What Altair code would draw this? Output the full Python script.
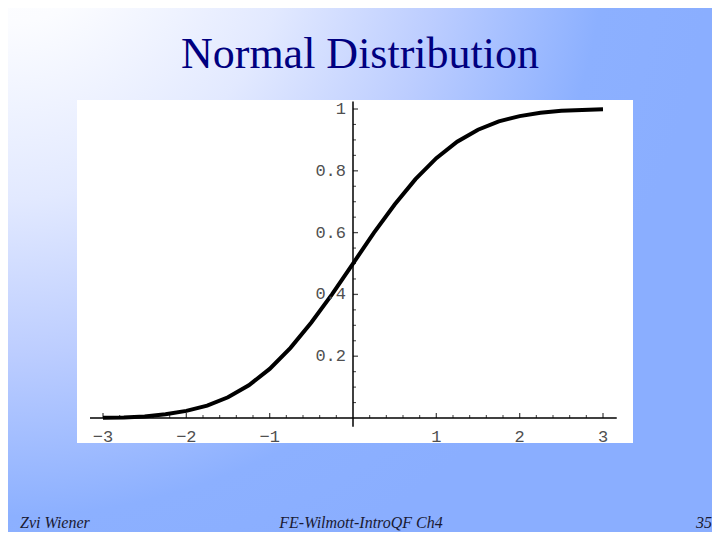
import altair as alt
import pandas as pd

# ---- data ----
x_vals = [-3.0, -2.75, -2.5, -2.25, -2.0, -1.75, -1.5, -1.25, -1.0, -0.75, -0.5, -0.25,
          0.0, 0.25, 0.5, 0.75, 1.0, 1.25, 1.5, 1.75, 2.0, 2.25, 2.5, 2.75, 3.0]
cdf_vals = [0.001, 0.002, 0.005, 0.012, 0.023, 0.040, 0.067, 0.106, 0.159, 0.227, 0.309, 0.401,
            0.500, 0.599, 0.691, 0.773, 0.841, 0.894, 0.933, 0.960, 0.977, 0.988, 0.994, 0.997, 0.999]

x_tick_major = [-3, -2, -1, 1, 2, 3]
x_tick_labels = ["\u22123", "\u22122", "\u22121", "1", "2", "3"]
x_tick_minor = [round(-3 + 0.2 * i, 1) for i in range(31) if i % 5 != 0]

y_tick_major = [0.2, 0.4, 0.6, 0.8, 1.0]
y_tick_labels = ["0.2", "0.4", "0.6", "0.8", "1"]
y_tick_minor = [round(0.05 * i, 2) for i in range(1, 21) if i % 4 != 0]

title_text = "Normal Distribution"
footer_left = "Zvi Wiener"
footer_mid = "FE-Wilmott-IntroQF Ch4"
footer_right = "35"

# ---- layout ----
W, H = 704, 524
x_dom = [-4.14, 4.308]
y_dom = [-0.3689, 1.3269]
xs = alt.Scale(domain=x_dom, nice=False, zero=False)
ys = alt.Scale(domain=y_dom, nice=False, zero=False)

one = alt.Data(values=[{}])

bg = alt.Chart(one).mark_rect(
    fill={
        "gradient": "radial",
        "x1": 0, "y1": 0, "r1": 0,
        "x2": 0, "y2": 0, "r2": 1,
        "stops": [
            {"offset": 0.0, "color": "#ffffff"},
            {"offset": 0.15, "color": "#fbfcff"},
            {"offset": 0.4, "color": "#e2e9ff"},
            {"offset": 0.62, "color": "#bccdff"},
            {"offset": 0.85, "color": "#8cb0ff"},
            {"offset": 1.0, "color": "#8aaeff"},
        ],
    }
).encode(x=alt.value(0), x2=alt.value(W), y=alt.value(0), y2=alt.value(H))

panel = alt.Chart(one).mark_rect(fill="white").encode(
    x=alt.value(69), x2=alt.value(625), y=alt.value(92), y2=alt.value(435)
)

curve_df = pd.DataFrame({"x": x_vals, "y": cdf_vals})
curve = alt.Chart(curve_df).mark_line(color="black", strokeWidth=4).encode(
    x=alt.X("x:Q", scale=xs, axis=None),
    y=alt.Y("y:Q", scale=ys, axis=None),
)

xaxis_line = alt.Chart(pd.DataFrame({"a": [-3.156], "b": [3.165], "y": [0.0]})).mark_rule(
    color="black", strokeWidth=1.5
).encode(x=alt.X("a:Q", scale=xs, axis=None), x2="b:Q", y=alt.Y("y:Q", scale=ys, axis=None))

yaxis_line = alt.Chart(pd.DataFrame({"x": [0.0], "a": [-0.028], "b": [1.024]})).mark_rule(
    color="black", strokeWidth=1.5
).encode(x=alt.X("x:Q", scale=xs, axis=None), y=alt.Y("a:Q", scale=ys, axis=None), y2="b:Q")

xt_major = alt.Chart(pd.DataFrame({"x": x_tick_major, "y": [0.0] * len(x_tick_major)})).mark_tick(
    orient="vertical", size=5, thickness=1.3, color="black", yOffset=-2.5
).encode(x=alt.X("x:Q", scale=xs, axis=None), y=alt.Y("y:Q", scale=ys, axis=None))

xt_minor = alt.Chart(pd.DataFrame({"x": x_tick_minor, "y": [0.0] * len(x_tick_minor)})).mark_tick(
    orient="vertical", size=3, thickness=1.1, color="black", yOffset=-1.5
).encode(x=alt.X("x:Q", scale=xs, axis=None), y=alt.Y("y:Q", scale=ys, axis=None))

yt_major = alt.Chart(pd.DataFrame({"x": [0.0] * len(y_tick_major), "y": y_tick_major})).mark_tick(
    orient="horizontal", size=5, thickness=1.3, color="black", xOffset=2.5
).encode(x=alt.X("x:Q", scale=xs, axis=None), y=alt.Y("y:Q", scale=ys, axis=None))

yt_minor = alt.Chart(pd.DataFrame({"x": [0.0] * len(y_tick_minor), "y": y_tick_minor})).mark_tick(
    orient="horizontal", size=3, thickness=1.1, color="black", xOffset=1.5
).encode(x=alt.X("x:Q", scale=xs, axis=None), y=alt.Y("y:Q", scale=ys, axis=None))

xlab = alt.Chart(pd.DataFrame({"x": x_tick_major, "y": [0.0] * 6, "t": x_tick_labels})).mark_text(
    font="Liberation Mono", fontSize=17, color="#505050", align="center", baseline="middle", dy=19
).encode(x=alt.X("x:Q", scale=xs, axis=None), y=alt.Y("y:Q", scale=ys, axis=None), text="t:N")

ylab = alt.Chart(pd.DataFrame({"x": [0.0] * 5, "y": y_tick_major, "t": y_tick_labels})).mark_text(
    font="Liberation Mono", fontSize=17, color="#505050", align="right", baseline="middle", dx=-7
).encode(x=alt.X("x:Q", scale=xs, axis=None), y=alt.Y("y:Q", scale=ys, axis=None), text="t:N")

title = alt.Chart(one).mark_text(
    text=title_text, font="Liberation Serif", fontSize=44, color="#000080",
    align="center", baseline="alphabetic"
).encode(x=alt.value(352), y=alt.value(60))

f1 = alt.Chart(one).mark_text(
    text=footer_left, font="Liberation Serif", fontSize=16, fontStyle="italic",
    color="#1a1a33", align="left", baseline="alphabetic"
).encode(x=alt.value(12), y=alt.value(520))

f2 = alt.Chart(one).mark_text(
    text=footer_mid, font="Liberation Serif", fontSize=16, fontStyle="italic",
    color="#1a1a33", align="center", baseline="alphabetic"
).encode(x=alt.value(353), y=alt.value(520))

f3 = alt.Chart(one).mark_text(
    text=footer_right, font="Liberation Serif", fontSize=16, fontStyle="italic",
    color="#1a1a33", align="right", baseline="alphabetic"
).encode(x=alt.value(704), y=alt.value(520))

chart = alt.layer(
    bg, panel, xaxis_line, yaxis_line, xt_major, xt_minor, yt_major, yt_minor,
    curve, xlab, ylab, title, f1, f2, f3
).properties(
    width=W, height=H,
    autosize=alt.AutoSizeParams(type="none"),
    padding=0,
).configure_view(stroke=None)

chart.save("out.html", embed_options={"renderer": "svg", "actions": False})
